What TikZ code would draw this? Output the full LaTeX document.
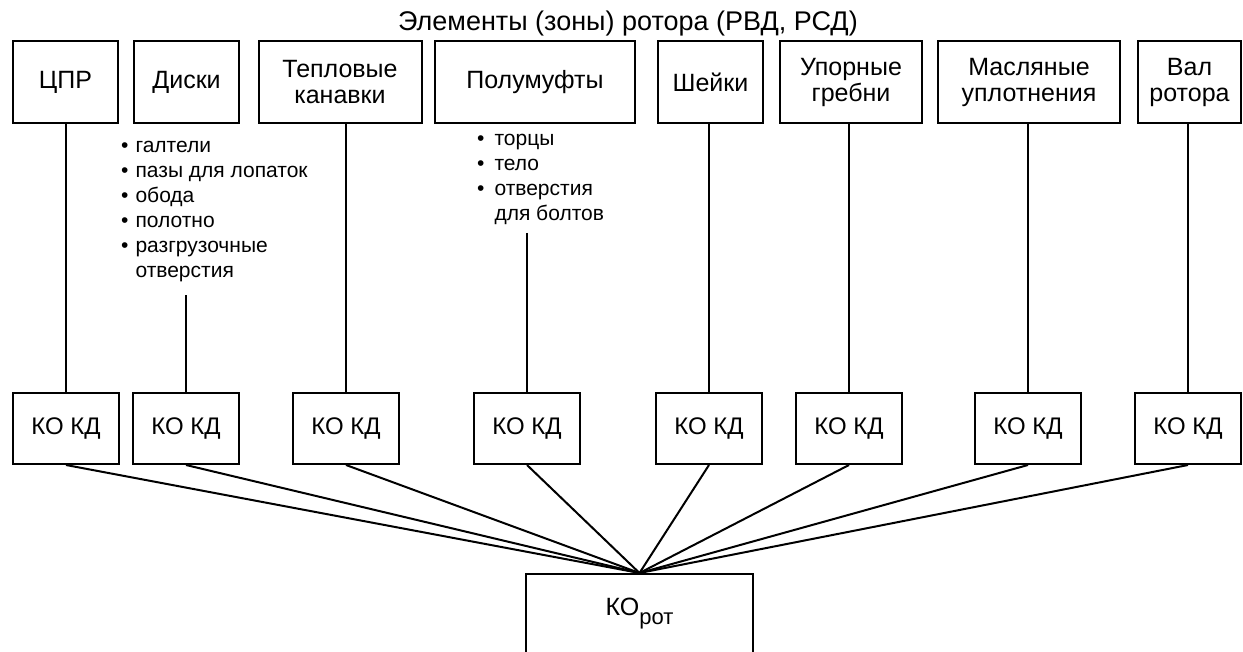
\documentclass[tikz,border=0pt]{standalone}
\usepackage{fontspec}
\setmainfont{Liberation Sans}
\usetikzlibrary{positioning,calc}

\begin{document}
\begin{tikzpicture}[x=1pt, y=-1pt,
    topbox/.style = {shape=rectangle, draw, line width=2pt, align=center,
    minimum height=82pt, inner sep=0pt, font=\fontsize{25}{26}\selectfont},
    kdbox/.style = {shape=rectangle, draw, line width=2pt, minimum width=106pt,
    minimum height=71pt, inner sep=0pt, font=\fontsize{24}{26}\selectfont},
    rotbox/.style = {shape=rectangle, draw, line width=2pt, minimum width=227pt,
    minimum height=80pt, inner sep=0pt, font=\fontsize{25}{26}\selectfont},
    items/.style = {align=left, inner sep=0pt, font=\fontsize{21}{25}\selectfont},
    line/.style = {draw, line width=2pt}]

    \useasboundingbox (0,0) rectangle (1243,652);
    \clip (0,0) rectangle (1243,652);

    \node[font=\fontsize{27}{28}\selectfont, anchor=base] (title) at (628,31) {Элементы (зоны) ротора (РВД, РСД)};

    % elements of the rotor
    \node[topbox, minimum width=105pt] (cpr) at (65.5,82) {ЦПР};
    \node[topbox, minimum width=105pt] (diski) at (186.5,82) {Диски};
    \node[topbox, minimum width=163pt] (kanavki) at (340,82) {Тепловые\\канавки};
    \node[topbox, minimum width=200pt] (polumufty) at (535,82) {Полумуфты};
    \node[topbox, minimum width=105pt] (sheiki) at (710.5,82) {Шейки};
    \node[topbox, minimum width=142pt] (grebni) at (851,82) {Упорные\\гребни};
    \node[topbox, minimum width=182pt] (uplot) at (1029,82) {Масляные\\уплотнения};
    \node[topbox, minimum width=103pt] (val) at (1189.5,82) {Вал\\ротора};

    \node[items, anchor=north west] (dlist) at (121,141) {\textbullet\hspace{7pt}галтели\\
      \textbullet\hspace{7pt}пазы для лопаток\\
      \textbullet\hspace{7pt}обода\\
      \textbullet\hspace{7pt}полотно\\
      \textbullet\hspace{7pt}разгрузочные\\
      \phantom{\textbullet}\hspace{7pt}отверстия};
    \node[items, anchor=north west] (plist) at (477,134) {\textbullet\hspace{10pt}торцы\\
      \textbullet\hspace{10pt}тело\\
      \textbullet\hspace{10pt}отверстия\\
      \phantom{\textbullet}\hspace{10pt}для болтов};

    % criteria boxes
    \node[kdbox] (kd1) at (66,428.5) {КО КД};
    \node[kdbox] (kd2) at (186,428.5) {КО КД};
    \node[kdbox] (kd3) at (346,428.5) {КО КД};
    \node[kdbox] (kd4) at (527,428.5) {КО КД};
    \node[kdbox] (kd5) at (709,428.5) {КО КД};
    \node[kdbox] (kd6) at (849,428.5) {КО КД};
    \node[kdbox] (kd7) at (1028,428.5) {КО КД};
    \node[kdbox] (kd8) at (1188,428.5) {КО КД};

    \node[rotbox] (rot) at (639.5,614) {КО\raisebox{-9pt}{\fontsize{22}{22}\selectfont рот}};

    \draw[line] (cpr.south -| kd1.north) -- (kd1.north);
    \draw[line, shorten <=13pt] (dlist.south -| kd2.north) -- (kd2.north);
    \draw[line] (kanavki.south -| kd3.north) -- (kd3.north);
    \draw[line, shorten <=8pt] (plist.south -| kd4.north) -- (kd4.north);
    \draw[line] (sheiki.south -| kd5.north) -- (kd5.north);
    \draw[line] (grebni.south -| kd6.north) -- (kd6.north);
    \draw[line] (uplot.south -| kd7.north) -- (kd7.north);
    \draw[line] (val.south -| kd8.north) -- (kd8.north);

    \draw[line] (kd1.south) -- (rot.north);
    \draw[line] (kd2.south) -- (rot.north);
    \draw[line] (kd3.south) -- (rot.north);
    \draw[line] (kd4.south) -- (rot.north);
    \draw[line] (kd5.south) -- (rot.north);
    \draw[line] (kd6.south) -- (rot.north);
    \draw[line] (kd7.south) -- (rot.north);
    \draw[line] (kd8.south) -- (rot.north);
\end{tikzpicture}
\end{document}
